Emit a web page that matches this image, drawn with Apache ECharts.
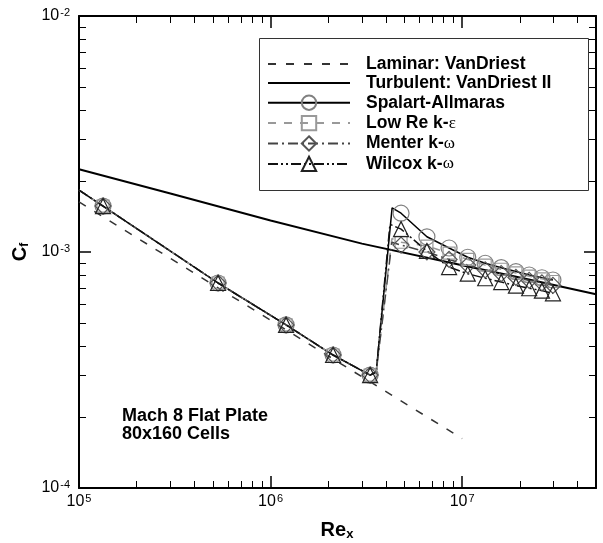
<!DOCTYPE html>
<html><head><meta charset="utf-8">
<script src="https://cdn.jsdelivr.net/npm/echarts@6/dist/echarts.min.js"></script>
<style>html,body{margin:0;padding:0;background:#fff}#c{width:603px;height:543px}</style>
</head><body><div id="c"></div>
<script>
const FONT = '"Liberation Sans", Arial, Helvetica, sans-serif';

// ---- data ----
const seriesNames = ['Laminar: VanDriest', 'Turbulent: VanDriest II', 'Spalart-Allmaras', 'Low Re k-\u03b5', 'Menter k-\u03c9', 'Wilcox k-\u03c9'];

// theory curves
const laminarRe = [1e5, 3e5, 1e6, 3e6, 1e7];
const laminarCf = [1.63e-3, 9.39e-4, 5.14e-4, 2.96e-4, 1.62e-4];
const turbRe = [1e5, 3e5, 1e6, 3e6, 1e7, 2e7, 5e7];
const turbCf = [2.24e-3, 1.77e-3, 1.36e-3, 1.085e-3, 8.78e-4, 7.79e-4, 6.62e-4];

// computations: shared laminar part
const edgeRe = [1e5];
const edgeCf = [1.83e-3];
const lamMarkRe = [1.335e5, 5.32e5, 1.205e6, 2.12e6, 3.31e6];
const lamMarkCf = [1.566e-3, 7.39e-4, 4.91e-4, 3.66e-4, 3.01e-4];
const riseRe = [3.56e6];
const riseCf = [3.1e-4];

// transition peaks
const saPeak = [4.31e6, 1.537e-3];
const kePeak = [4.3e6, 1.14e-3];
const menterPeak = [4.3e6, 1.1e-3];
const wilcoxPeak = [4.2e6, 1.31e-3];

// turbulent part (marker stations)
const turbMarkRe = [4.8e6, 6.55e6, 8.55e6, 1.07e7, 1.32e7, 1.6e7, 1.91e7, 2.24e7, 2.61e7, 2.98e7];
const saTurbCf = [1.46e-3, 1.16e-3, 1.04e-3, 9.5e-4, 8.96e-4, 8.58e-4, 8.26e-4, 7.99e-4, 7.78e-4, 7.61e-4];
const keTurbCf = [1.1e-3, 1.06e-3, 9.9e-4, 9.3e-4, 8.8e-4, 8.45e-4, 8.15e-4, 7.9e-4, 7.7e-4, 7.5e-4];
const menterTurbCf = [1.07e-3, 1.0e-3, 9.3e-4, 8.8e-4, 8.4e-4, 8.1e-4, 7.8e-4, 7.58e-4, 7.4e-4, 7.22e-4];
const wilcoxTurbCf = [1.25e-3, 1.01e-3, 8.63e-4, 8.09e-4, 7.74e-4, 7.46e-4, 7.2e-4, 7.02e-4, 6.86e-4, 6.68e-4];

// axes
const xRange = [1e5, 5e7];
const yRange = [1e-4, 1e-2];
const xMajor = [1e5, 1e6, 1e7];
const xMinor = [2e5,3e5,4e5,5e5,6e5,7e5,8e5,9e5,2e6,3e6,4e6,5e6,6e6,7e6,8e6,9e6,2e7,3e7,4e7];
const yMajor = [1e-4, 1e-3, 1e-2];
const yMinor = [2e-4,3e-4,4e-4,5e-4,6e-4,7e-4,8e-4,9e-4,2e-3,3e-3,4e-3,5e-3,6e-3,7e-3,8e-3,9e-3];

// ---- build ----
const pairs = (xs, ys) => xs.map((x, i) => [x, ys[i]]);
function modelData(peak, turbCfArr) {
  const d = [];
  edgeRe.forEach((r, i) => d.push({ value: [r, edgeCf[i]], symbol: 'none' }));
  lamMarkRe.forEach((r, i) => d.push({ value: [r, lamMarkCf[i]] }));
  riseRe.forEach((r, i) => d.push({ value: [r, riseCf[i]], symbol: 'none' }));
  d.push({ value: [peak[0], peak[1]], symbol: 'none' });
  turbMarkRe.forEach((r, i) => d.push({ value: [r, turbCfArr[i]] }));
  return d;
}

const L = Math.log10;
function expLabel(v) {
  const e = L(v), r = Math.round(e);
  if (Math.abs(e - r) > 1e-6) return '';
  return '{b|10}{s|' + r + '}';
}
const labelRich = {
  b: { fontSize: 16, fontFamily: FONT, color: '#000', lineHeight: 18 },
  s: { fontSize: 11, fontFamily: FONT, color: '#000', verticalAlign: 'top', lineHeight: 11, padding: [0, 0, 0, 1] }
};

function auxAxis(pos, range, ticks, len, showLine, w) {
  return {
    type: 'value', position: pos, min: L(range[0]), max: L(range[1]),
    axisLine: { show: showLine, onZero: false, lineStyle: { color: '#000', width: 2 } },
    axisTick: { show: true, inside: true, length: len, customValues: ticks.map(L), lineStyle: { color: '#000', width: w } },
    axisLabel: { show: false }, splitLine: { show: false }, silent: true
  };
}

const hiddenIcon = { color: 'transparent', borderColor: 'transparent', borderWidth: 0, opacity: 0 };

const chart = echarts.init(document.getElementById('c'), null, { renderer: 'canvas' });
chart.setOption({
  animation: false,
  backgroundColor: '#fff',
  grid: { left: 79, right: 7, top: 16, bottom: 55, containLabel: false, outerBoundsMode: 'none' },
  xAxis: [
    {
      type: 'log', logBase: 10, min: xRange[0], max: xRange[1], position: 'bottom',
      axisLine: { show: true, onZero: false, lineStyle: { color: '#000', width: 2 } },
      axisTick: { show: true, inside: true, length: 12, lineStyle: { color: '#000', width: 1.5 } },
      minorTick: { show: false }, splitLine: { show: false },
      axisLabel: { margin: 5, formatter: expLabel, rich: labelRich }
    },
    auxAxis('bottom', xRange, xMinor, 7, false, 1),
    auxAxis('top', xRange, xMajor, 12, true, 1.5),
    auxAxis('top', xRange, xMinor, 7, false, 1)
  ],
  yAxis: [
    {
      type: 'log', logBase: 10, min: yRange[0], max: yRange[1], position: 'left',
      axisLine: { show: true, onZero: false, lineStyle: { color: '#000', width: 2 } },
      axisTick: { show: true, inside: true, length: 12, lineStyle: { color: '#000', width: 1.5 } },
      minorTick: { show: false }, splitLine: { show: false },
      axisLabel: { margin: 9, formatter: expLabel, rich: labelRich }
    },
    auxAxis('left', yRange, yMinor, 7, false, 1),
    auxAxis('right', yRange, yMajor, 12, true, 1.5),
    auxAxis('right', yRange, yMinor, 7, false, 1)
  ],
  legend: {
    orient: 'vertical', left: 267, top: 55, padding: 0,
    itemWidth: 82, itemHeight: 18, itemGap: 1,
    selectedMode: false,
    data: [
      { name: seriesNames[0], itemStyle: hiddenIcon },
      { name: seriesNames[1], itemStyle: hiddenIcon },
      seriesNames[2], seriesNames[3], seriesNames[4], seriesNames[5]
    ],
    formatter: n => n.replace(/([\u03b5\u03c9])/, '{g|$1}'),
    textStyle: {
      fontSize: 17.5, fontWeight: 'bold', fontFamily: FONT, color: '#000', lineHeight: 18,
      padding: [0, 0, 0, 11],
      rich: { g: { fontSize: 17, fontWeight: 'normal', fontFamily: '"Liberation Serif", serif', color: '#000' } }
    }
  },
  graphic: [
    { type: 'rect', shape: { x: 259.5, y: 38.5, width: 329, height: 152 }, style: { fill: 'none', stroke: '#333', lineWidth: 1 }, silent: true },
    { type: 'text', x: 122, y: 406.5, silent: true,
      style: { text: 'Mach 8 Flat Plate\n80x160 Cells', font: 'bold 18px ' + FONT, fill: '#000', lineHeight: 18.3, verticalAlign: 'top' } },
    { type: 'text', x: 20, y: 252, rotation: Math.PI / 2, silent: true,
      style: { text: '{b|C}{s|f}', align: 'center', verticalAlign: 'middle',
        rich: { b: { fontSize: 20, fontWeight: 'bold', fontFamily: FONT, fill: '#000', lineHeight: 22 },
                s: { fontSize: 12, fontWeight: 'bold', fontFamily: FONT, fill: '#000', verticalAlign: 'bottom', lineHeight: 12 } } } },
    { type: 'text', x: 337, y: 530, silent: true,
      style: { text: '{b|Re}{s|x}', align: 'center', verticalAlign: 'middle',
        rich: { b: { fontSize: 20, fontWeight: 'bold', fontFamily: FONT, fill: '#000', lineHeight: 22 },
                s: { fontSize: 13, fontWeight: 'bold', fontFamily: FONT, fill: '#000', verticalAlign: 'bottom', lineHeight: 13 } } } }
  ],
  series: [
    { name: seriesNames[0], type: 'line', data: pairs(laminarRe, laminarCf), symbol: 'none', showSymbol: false,
      lineStyle: { color: '#333', width: 1.5, type: [8, 10] }, itemStyle: { color: '#333' }, z: 2, silent: true },
    { name: seriesNames[1], type: 'line', data: pairs(turbRe, turbCf), symbol: 'none', showSymbol: false,
      lineStyle: { color: '#000', width: 2 }, itemStyle: { color: '#000' }, z: 2, silent: true },
    { name: seriesNames[2], type: 'line', data: modelData(saPeak, saTurbCf), symbol: 'circle', symbolSize: 16,
      lineStyle: { color: '#000', width: 1.5 }, itemStyle: { color: 'none', borderColor: '#808080', borderWidth: 1.2 }, z: 3, silent: true },
    { name: seriesNames[3], type: 'line', data: modelData(kePeak, keTurbCf), symbol: 'rect', symbolSize: 12,
      lineStyle: { color: '#999', width: 1.5, type: [8, 8] }, itemStyle: { color: 'none', borderColor: '#999', borderWidth: 1.2 }, z: 3, silent: true },
    { name: seriesNames[4], type: 'line', data: modelData(menterPeak, menterTurbCf), symbol: 'diamond', symbolSize: 16,
      lineStyle: { color: '#444', width: 1.5, type: [10, 4, 2, 4] }, itemStyle: { color: 'none', borderColor: '#555', borderWidth: 1.2 }, z: 3, silent: true },
    { name: seriesNames[5], type: 'line', data: modelData(wilcoxPeak, wilcoxTurbCf), symbol: 'triangle', symbolSize: 15,
      lineStyle: { color: '#111', width: 1.5, type: [10, 3, 2, 3, 2, 3] }, itemStyle: { color: 'none', borderColor: '#222', borderWidth: 1.2 }, z: 3, silent: true }
  ]
});
</script>
</body></html>
